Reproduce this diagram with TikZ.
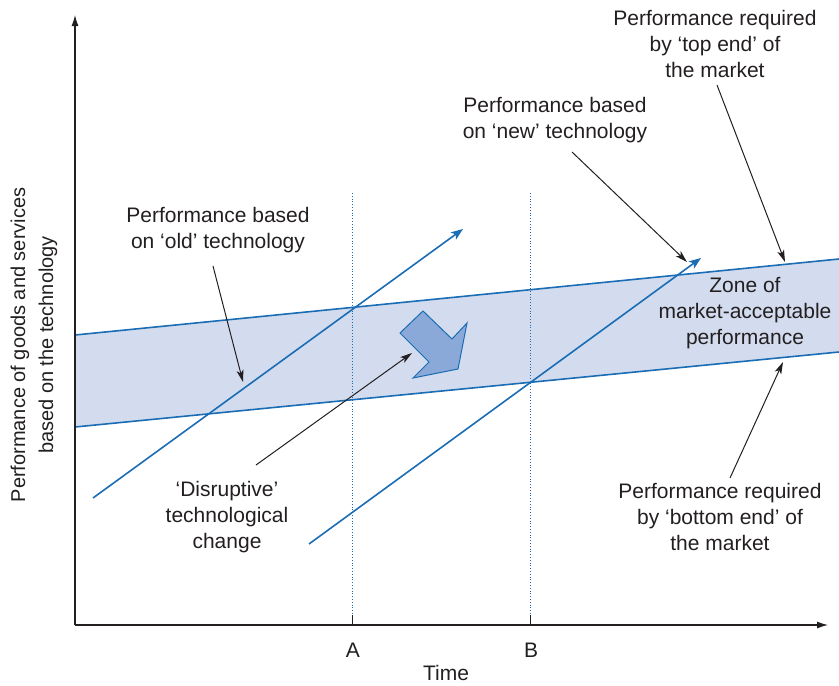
\documentclass[tikz,border=0pt]{standalone}
\usepackage{fontspec}
\setmainfont{Liberation Sans}
\usetikzlibrary{arrows.meta}
\definecolor{TechBlue}{HTML}{1A6DB5}
\definecolor{ZoneFill}{HTML}{D3DCEE}
\definecolor{ShiftFill}{HTML}{8AA9D8}
\definecolor{InkGrey}{HTML}{231F20}
\tikzset{
  note/.style={align=center,font=\fontsize{21}{26}\selectfont,text=InkGrey,inner sep=0pt},
  axis/.style={-{Latex[length=11pt,width=7pt]},line width=1.1pt,draw=InkGrey},
  tech/.style={-{Stealth[length=12pt,width=9pt,inset=3pt]},line width=1.6pt,draw=TechBlue},
  pointer/.style={-{Stealth[length=12pt,width=7pt,inset=3pt]},line width=1pt,draw=InkGrey},
  guide/.style={dotted,line width=0.8pt,draw=TechBlue},
  edgeline/.style={line width=1.6pt,draw=TechBlue}
}
\begin{document}
\begin{tikzpicture}[x=1pt,y=-1pt]
  \useasboundingbox (0,0) rectangle (839,686);
  % zone between the two market lines
  \coordinate (zTL) at (75,335); \coordinate (zTR) at (839,259);
  \coordinate (zBL) at (75,427); \coordinate (zBR) at (839,352);
  \fill[ZoneFill] (zTL)--(zTR)--(zBR)--(zBL)--cycle;
  \draw[edgeline] (zTL)--(zTR); \draw[edgeline] (zBL)--(zBR);
  % axes
  \coordinate (O) at (75,625);
  \coordinate (yEnd) at (75,15); \coordinate (xEnd) at (828,625);
  \draw[axis] (O)--(yEnd); \draw[axis] (O)--(xEnd);
  % times A and B
  \coordinate (aTop) at (352,193); \coordinate (aBot) at (352,615);
  \coordinate (bTop) at (530,193); \coordinate (bBot) at (530,615);
  \draw[guide] (aTop)--(aBot); \draw[guide] (bTop)--(bBot);
  \draw[line width=1pt,InkGrey] (aBot)--(352,625); \draw[line width=1pt,InkGrey] (bBot)--(530,625);
  \node[note] (tA) at (353,650) {A};
  \node[note] (tB) at (531,650) {B};
  \node[note] (time) at (446,673) {Time};
  \node[note,font=\fontsize{20}{28}\selectfont,rotate=90] (yLab) at (34,345) {Performance of goods and services\\based on the technology};
  % technology lines
  \coordinate (oldS) at (93,498); \coordinate (oldE) at (463,229);
  \coordinate (newS) at (309,544); \coordinate (newE) at (701,258);
  \draw[tech] (oldS)--(oldE); \draw[tech] (newS)--(newE);
  % the shift
  \draw[TechBlue,line width=1pt,fill=ShiftFill,line join=miter]
    (423,311)--(400,333)--(429,362)--(413,378)--(458,369)--(467,323)--(452,339)--cycle;
  % texts
  \node[note] (old) at (218,230) {Performance based\\on `old' technology};
  \node[note] (new) at (555,120) {Performance based\\on `new' technology};
  \node[note] (top) at (715,44) {Performance required\\by `top end' of\\the market};
  \node[note] (disr) at (227,517) {`Disruptive'\\technological\\change};
  \node[note] (bottom) at (720,517) {Performance required\\by `bottom end' of\\the market};
  \node[note] (zone) at (745,313) {Zone of\\market-acceptable\\performance};
  % pointers
  \coordinate (pOld) at (243,382); \coordinate (pNew) at (687,262);
  \coordinate (pTop) at (785,262); \coordinate (pDisr) at (412,353);
  \coordinate (pBot) at (783,362);
  \draw[pointer] (213,266)--(pOld);
  \draw[pointer] (572,152)--(pNew);
  \draw[pointer] (717,85)--(pTop);
  \draw[pointer] (256,465)--(pDisr);
  \draw[pointer] (730,478)--(pBot);
\end{tikzpicture}
\end{document}
